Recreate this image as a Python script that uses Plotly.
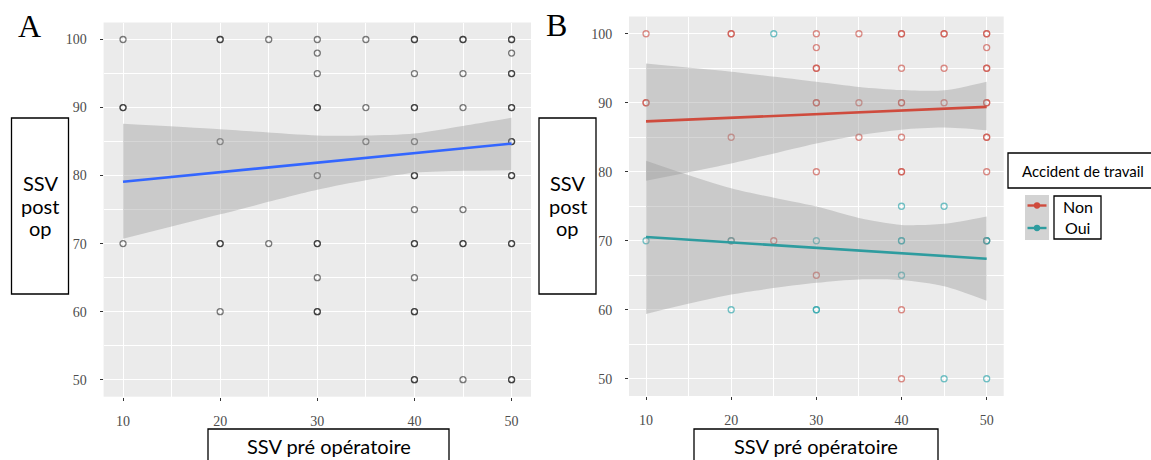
import plotly.graph_objects as go

W, H = 1151, 460

# ---------------- data ----------------
# Panel A : all patients (repeated entries = overlapping patients)
a_x = [10, 10, 10, 10,
       20, 20, 20, 20, 20, 20,
       25, 25,
       30, 30, 30, 30, 30, 30, 30, 30, 30, 30, 30,
       35, 35, 35,
       40, 40, 40, 40, 40, 40, 40, 40, 40, 40, 40, 40, 40, 40, 40, 40,
       45, 45, 45, 45, 45, 45, 45, 45,
       50, 50, 50, 50, 50, 50, 50, 50, 50, 50, 50, 50, 50, 50, 50]
a_y = [100, 90, 90, 70,
       100, 100, 85, 70, 70, 60,
       100, 70,
       100, 98, 95, 90, 90, 80, 70, 70, 65, 60, 60,
       100, 90, 85,
       100, 100, 95, 90, 90, 85, 80, 80, 75, 70, 70, 65, 60, 60, 50, 50,
       100, 100, 95, 90, 75, 70, 70, 50,
       100, 100, 98, 95, 95, 90, 90, 85, 85, 80, 80, 70, 70, 50, 50]

# Panel A smooth
a_fit_x = [10, 50]
a_fit_y = [79.1, 84.7]
band_x = [10, 20, 30, 35, 40, 45, 50]
a_upper = [87.6, 86.8, 85.9, 85.9, 86.2, 87.3, 88.5]
a_lower = [70.7, 74.3, 77.9, 79.3, 80.4, 80.7, 80.8]

# Panel B : Accident de travail = Non
non_x = [10, 10, 10,
         20, 20, 20, 20,
         25,
         30, 30, 30, 30, 30, 30, 30, 30,
         35, 35, 35,
         40, 40, 40, 40, 40, 40, 40, 40, 40, 40,
         45, 45, 45, 45,
         50, 50, 50, 50, 50, 50, 50, 50, 50, 50, 50]
non_y = [100, 90, 90,
         100, 100, 85, 70,
         70,
         100, 98, 95, 95, 90, 90, 80, 65,
         100, 90, 85,
         100, 100, 95, 90, 90, 85, 80, 80, 60, 50,
         100, 100, 95, 90, 70,
         100, 100, 98, 95, 95, 90, 90, 85, 85, 80, 80]
# Panel B : Accident de travail = Oui
oui_x = [10, 20, 20, 25, 30, 30, 30, 40, 40, 40, 40, 45, 45, 50, 50, 50]
oui_y = [70, 70, 60, 100, 70, 60, 60, 75, 70, 70, 65, 75, 50, 70, 70, 50]

non_fit_y = [87.3, 89.4]
non_upper = [95.7, 94.5, 93.05, 92.3, 91.85, 91.8, 93.05]
non_lower = [78.7, 81.2, 84.1, 85.3, 86.1, 86.4, 86.0]
oui_fit_y = [70.55, 67.4]
oui_upper = [81.6, 77.6, 74.95, 73.3, 72.3, 72.45, 73.5]
oui_lower = [59.4, 62.2, 63.9, 64.4, 64.3, 63.4, 61.3]

x_ticks = [10, 20, 30, 40, 50]
y_ticks = [50, 60, 70, 80, 90, 100]

x_title = "SSV pré opératoire"
y_title_lines = ["SSV", "post", "op"]
legend_title = "Accident de travail"
groups = ["Non", "Oui"]

# ---------------- style ----------------
RED_PT = "rgba(205,80,70,0.65)"
TEAL_PT = "rgba(40,165,170,0.65)"
RED_LN = "#CF4B3D"
TEAL_LN = "#2E9C9F"
BAND = "rgba(153,153,153,0.4)"

def px_x(p):
    return p / W

def px_y(p):
    return 1 - p / H

fig = go.Figure()

def add_points(xs, ys, color, xa, ya):
    fig.add_trace(go.Scatter(x=xs, y=ys, mode="markers", xaxis=xa, yaxis=ya,
                             marker=dict(symbol="circle-open", size=6, color=color,
                                         line=dict(width=1.3, color=color)),
                             showlegend=False, hoverinfo="skip"))

def add_band(lower, upper, xa, ya):
    fig.add_trace(go.Scatter(x=band_x, y=lower, mode="lines", xaxis=xa, yaxis=ya,
                             line=dict(width=0, shape="spline", smoothing=0.8),
                             showlegend=False, hoverinfo="skip"))
    fig.add_trace(go.Scatter(x=band_x, y=upper, mode="lines", xaxis=xa, yaxis=ya,
                             line=dict(width=0, shape="spline", smoothing=0.8),
                             fill="tonexty", fillcolor=BAND,
                             showlegend=False, hoverinfo="skip"))

def add_fit(ys, color, xa, ya):
    fig.add_trace(go.Scatter(x=a_fit_x, y=ys, mode="lines", xaxis=xa, yaxis=ya,
                             line=dict(width=2.6, color=color),
                             showlegend=False, hoverinfo="skip"))

# Panel A
add_points(a_x, a_y, "rgba(20,20,20,0.55)", "x", "y")
add_band(a_lower, a_upper, "x", "y")
add_fit(a_fit_y, "#3366FF", "x", "y")

# Panel B
add_points(non_x, non_y, RED_PT, "x2", "y2")
add_points(oui_x, oui_y, TEAL_PT, "x2", "y2")
add_band(non_lower, non_upper, "x2", "y2")
add_band(oui_lower, oui_upper, "x2", "y2")
add_fit(non_fit_y, RED_LN, "x2", "y2")
add_fit(oui_fit_y, TEAL_LN, "x2", "y2")

tickfont = dict(family="Liberation Serif, Times New Roman, serif", size=14, color="#4D4D4D")

def axis_common(ticks, rng, domain, anchor):
    return dict(range=rng, domain=domain, anchor=anchor, tickvals=ticks,
                showgrid=True, gridcolor="white", gridwidth=1.3,
                zeroline=False, showline=False,
                ticks="outside", ticklen=3, tickwidth=1.1, tickcolor="#333333",
                tickfont=tickfont,
                minor=dict(dtick=5, tick0=0, showgrid=True, gridcolor="white",
                           gridwidth=0.6, ticks=""),
                fixedrange=True)

xa = axis_common(x_ticks, [8, 52], [px_x(103.6), px_x(531)], "y")
ya = axis_common(y_ticks, [47.5, 102.5], [px_y(396.7), px_y(22.5)], "x")
xb = axis_common(x_ticks, [8, 52], [px_x(629), px_x(1003.7)], "y2")
yb = axis_common(y_ticks, [47.5, 102.5], [px_y(396), px_y(16.5)], "x2")
for ax in (xa, xb):
    ax["ticklabelstandoff"] = 8
for ax in (ya, yb):
    ax["ticklabelstandoff"] = 10

shapes = []
annotations = []

def box(x0, y0, x1, y1):
    shapes.append(dict(type="rect", xref="paper", yref="paper",
                       x0=px_x(x0), x1=px_x(x1), y0=px_y(y1), y1=px_y(y0),
                       line=dict(color="black", width=1.3), fillcolor="white",
                       layer="above"))

def text(t, x, y, size, family="Lato", color="black"):
    annotations.append(dict(text=t, xref="paper", yref="paper", x=px_x(x), y=px_y(y),
                            xanchor="center", yanchor="middle", showarrow=False,
                            font=dict(family=family, size=size, color=color)))

# panel letters
text("A", 29, 26, 32, family="Liberation Serif")
text("B", 556, 25, 32, family="Liberation Serif")

# y-title boxes
for (bx0, bx1) in [(11.5, 68.5), (539, 596)]:
    box(bx0, 118, bx1, 294)
    cx = (bx0 + bx1) / 2
    for ln, yy in zip(y_title_lines, [183, 206, 228]):
        text(ln, cx, yy, 20)

# x-title boxes
for (bx0, bx1) in [(208, 449), (694, 938)]:
    box(bx0, 429, bx1, 475)
    text(x_title, (bx0 + bx1) / 2, 446, 20)

# legend
box(1008, 153, 1160, 188)
text(legend_title, 1083, 170.5, 15)
shapes.append(dict(type="rect", xref="paper", yref="paper",
                   x0=px_x(1025), x1=px_x(1049), y0=px_y(240), y1=px_y(195),
                   line=dict(width=0), fillcolor="#D3D3D3", layer="above"))
for yy, col in [(205.5, RED_LN), (228, TEAL_LN)]:
    shapes.append(dict(type="line", xref="paper", yref="paper",
                       x0=px_x(1027.5), x1=px_x(1046.5), y0=px_y(yy), y1=px_y(yy),
                       line=dict(color=col, width=2.4), layer="above"))
    shapes.append(dict(type="circle", xref="paper", yref="paper",
                       x0=px_x(1034.5), x1=px_x(1039.5), y0=px_y(yy + 2.5), y1=px_y(yy - 2.5),
                       line=dict(color=col, width=1.3), fillcolor=col, layer="above"))
box(1054, 196, 1101, 239)
for g, yy in zip(groups, [206, 227.5]):
    text(g, 1077.5, yy, 16)

fig.update_layout(
    width=W, height=H, autosize=False,
    margin=dict(l=0, r=0, t=0, b=0),
    paper_bgcolor="white", plot_bgcolor="#EBEBEB",
    xaxis=xa, yaxis=ya, xaxis2=xb, yaxis2=yb,
    shapes=shapes, annotations=annotations,
    showlegend=False,
)

fig.write_html("out.html",
               config={"displayModeBar": False},
               post_script="document.body.style.margin='0';document.body.style.overflow='hidden';")
